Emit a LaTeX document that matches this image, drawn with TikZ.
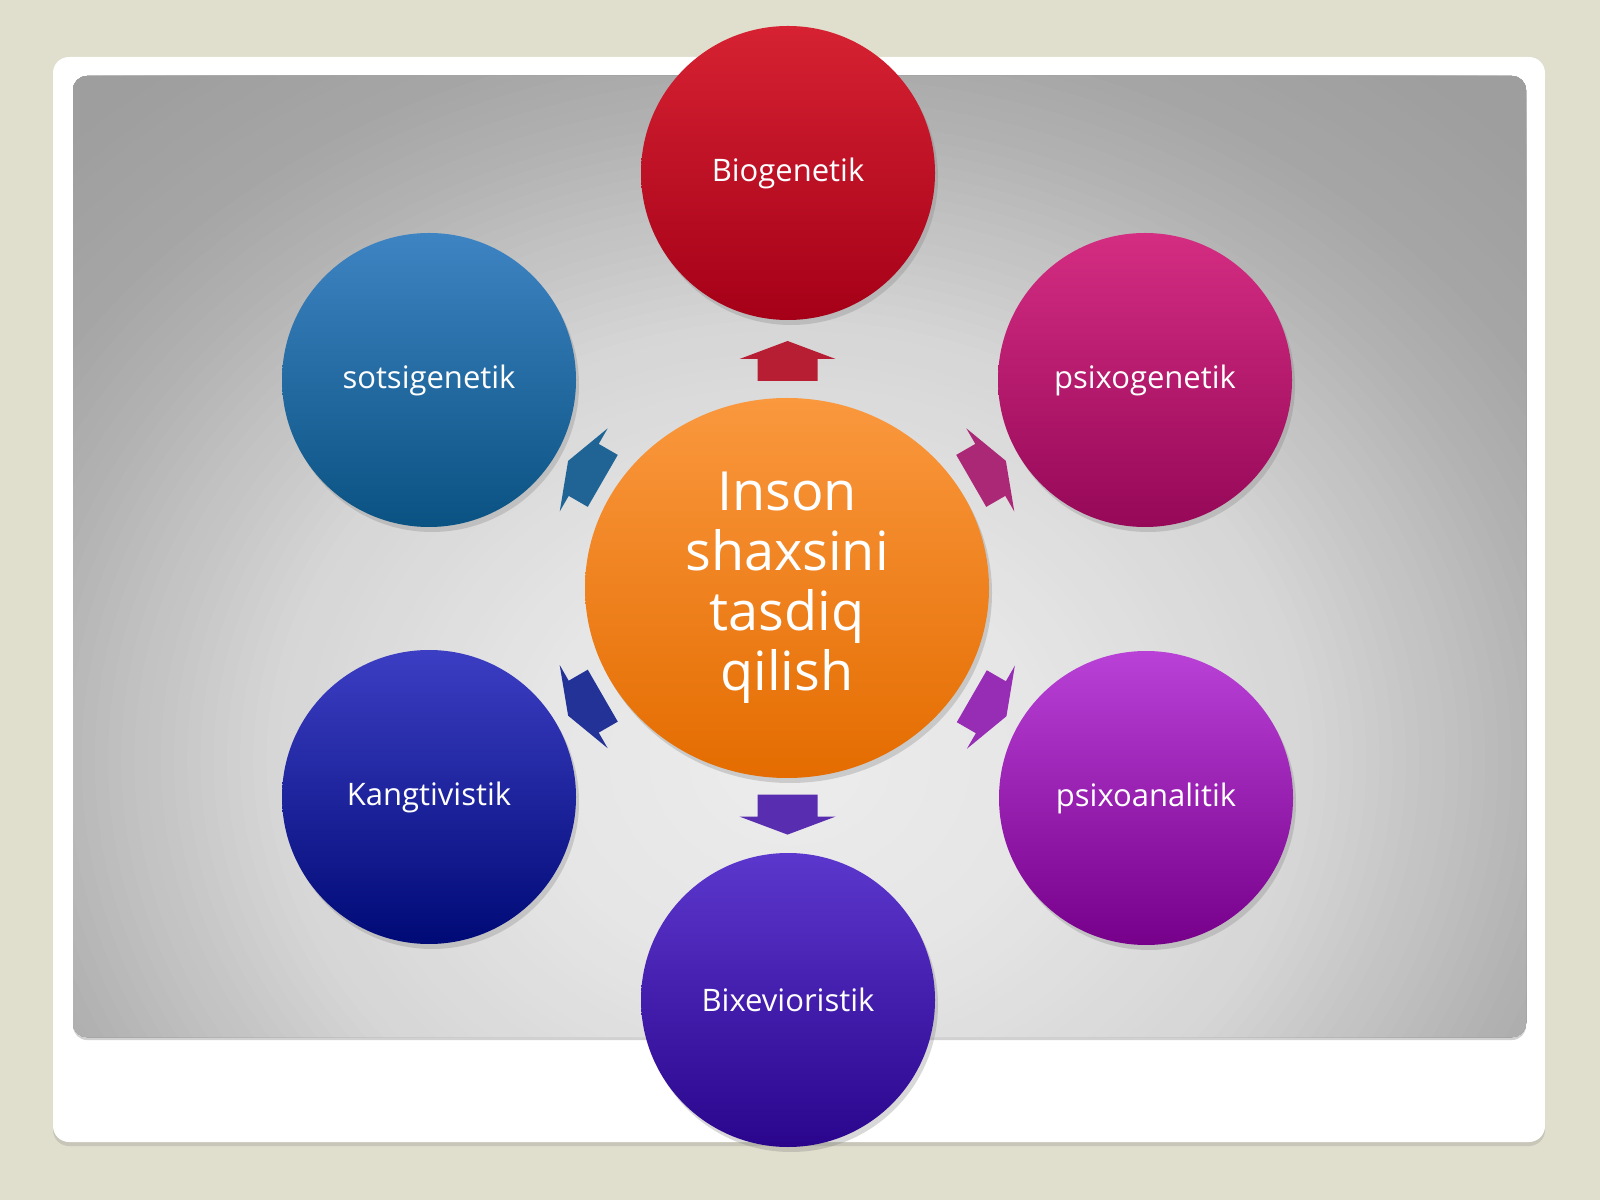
\documentclass[tikz,border=0pt]{standalone}
\usepackage{fontspec}
\setmainfont{Open Sans}
\usetikzlibrary{calc,shapes.geometric,shadows}
\definecolor{bgbeige}{RGB}{224,222,204}
\definecolor{redTop}{RGB}{214,34,50}
\definecolor{redBot}{RGB}{165,0,24}
\definecolor{magTop}{RGB}{212,45,130}
\definecolor{magBot}{RGB}{150,8,88}
\definecolor{purTop}{RGB}{185,65,215}
\definecolor{purBot}{RGB}{118,0,138}
\definecolor{indTop}{RGB}{92,55,205}
\definecolor{indBot}{RGB}{42,5,140}
\definecolor{navTop}{RGB}{60,62,195}
\definecolor{navBot}{RGB}{0,10,118}
\definecolor{bluTop}{RGB}{62,132,195}
\definecolor{bluBot}{RGB}{10,82,130}
\definecolor{orTop}{RGB}{250,152,62}
\definecolor{orBot}{RGB}{228,108,0}
\definecolor{arrRed}{RGB}{183,30,52}
\definecolor{arrMag}{RGB}{170,40,118}
\definecolor{arrPur}{RGB}{150,45,180}
\definecolor{arrInd}{RGB}{88,45,175}
\definecolor{arrNav}{RGB}{35,50,150}
\definecolor{arrBlu}{RGB}{32,100,150}
\tikzset{
  ball/.style={circle, minimum size=294pt, inner sep=0pt, text=white,
    font=\fontsize{31}{37}\selectfont,
    drop shadow={shadow xshift=3pt, shadow yshift=-5pt, opacity=0.3}},
  barrow/.pic={\fill[pic actions] (-20,-30) -- (2,-30) -- (2,-48) -- (20,0) -- (2,48) -- (2,30) -- (-20,30) -- cycle;}
}
\begin{document}
\begin{tikzpicture}[x=1pt,y=1pt]
\useasboundingbox (0,0) rectangle (1600,1200);
\fill[bgbeige] (0,0) rectangle (1600,1200);
% white frame
\fill[white, rounded corners=16pt, drop shadow={shadow xshift=0pt, shadow yshift=-4pt, opacity=0.25}] (53,58) rectangle (1545,1143);
% gray panel with radial gradient (concentric ellipses)
\fill[black, opacity=0.18, rounded corners=14pt] (73,160) rectangle (1526,1122);
\begin{scope}
  \clip[rounded corners=14pt] (73,163) rectangle (1526,1124);
  \foreach \k in {0,...,88} {
    \pgfmathsetmacro{\rr}{1.33-0.015*\k}
    \pgfmathtruncatemacro{\g}{\rr>=1.0 ? max(158,166-(\rr-1.0)*40) : (\rr>=0.86 ? 180-(\rr-0.86)*100 : (\rr>=0.6 ? 214-(\rr-0.6)/0.26*34 : (\rr>=0.3 ? 230-(\rr-0.3)/0.3*16 : 237-\rr/0.3*7)))}
    \definecolor{pg}{RGB}{\g,\g,\g}
    \fill[pg] (790,440) ellipse [x radius=880*\rr, y radius=740*\rr];
  }
\end{scope}
% centre
\node[ellipse, minimum width=404pt, minimum height=380pt, inner sep=0pt,
  top color=orTop, bottom color=orBot, text=white, align=center,
  font=\fontsize{54}{60}\selectfont,
  drop shadow={shadow xshift=3pt, shadow yshift=-5pt, opacity=0.3}] (c) at (787,612) {Inson\\shaxsini\\tasdiq\\qilish};
% outer circles
\node[ball, top color=redTop, bottom color=redBot] (bio) at (788,1027) {Biogenetik};
\node[ball, top color=magTop, bottom color=magBot] (psg) at (1145,820) {psixogenetik};
\node[ball, top color=purTop, bottom color=purBot] (psa) at (1146,402) {psixoanalitik};
\node[ball, top color=indTop, bottom color=indBot] (bix) at (788,200) {Bixevioristik};
\node[ball, top color=navTop, bottom color=navBot] (kang) at (429,403) {Kangtivistik};
\node[ball, top color=bluTop, bottom color=bluBot] (sots) at (429,820) {sotsigenetik};
% block arrows
\pic[rotate=90, fill=arrRed] at ($(c)!0.547!(bio)$) {barrow};
\pic[rotate=30, fill=arrMag] at ($(c)!0.563!(psg)$) {barrow};
\pic[rotate=-30, fill=arrPur] at ($(c)!0.563!(psa)$) {barrow};
\pic[rotate=-90, fill=arrInd] at ($(c)!0.55!(bix)$) {barrow};
\pic[rotate=-150, fill=arrNav] at ($(c)!0.563!(kang)$) {barrow};
\pic[rotate=150, fill=arrBlu] at ($(c)!0.563!(sots)$) {barrow};
\end{tikzpicture}
\end{document}
